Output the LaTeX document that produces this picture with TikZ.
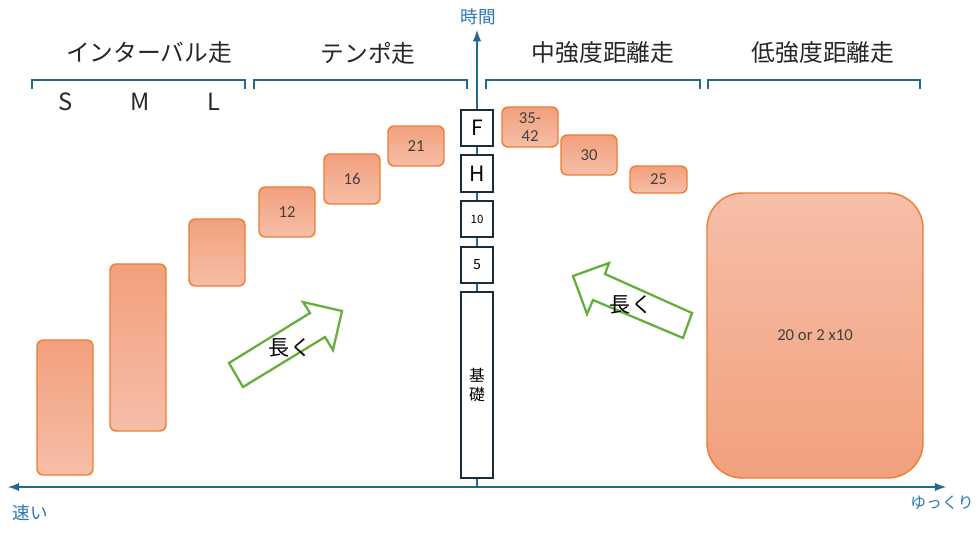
\documentclass[tikz,border=0pt]{standalone}
\usepackage{fontspec}
\setmainfont{Carlito}
\newfontfamily\jp{Noto Sans CJK JP}
\usetikzlibrary{arrows.meta,positioning,shapes}

\definecolor{axisblue}{RGB}{35,105,140}
\definecolor{labelblue}{RGB}{46,117,182}
\definecolor{runedge}{RGB}{237,125,49}
\definecolor{rundark}{RGB}{242,160,125}
\definecolor{runlight}{RGB}{246,190,168}
\definecolor{stageedge}{RGB}{25,45,60}
\definecolor{longgreen}{RGB}{100,175,60}

\begin{document}
\begin{tikzpicture}[x=0.02cm, y=-0.02cm, thick]

		\tikzstyle{heading}=[text=black!85, font=\jp\fontsize{13.5}{16}\selectfont]
		\tikzstyle{axislabel}=[text=labelblue, font=\jp\fontsize{10}{12}\selectfont]
		\tikzstyle{bracket}=[axisblue, line width=1.2pt]
		\tikzstyle{run}=[rectangle, rounded corners=3.5pt, draw=runedge, line width=0.8pt, top color=rundark, bottom color=runlight, text=black!75, font=\fontsize{9.5}{10}\selectfont, minimum width=1.12cm, inner sep=1pt]
		\tikzstyle{stage}=[rectangle, draw=stageedge, line width=1.2pt, fill=white, text=black, minimum width=0.64cm, inner sep=1pt]
		\tikzstyle{longer}=[draw=longgreen, line width=1.3pt, fill=white, line join=miter]

		\useasboundingbox (0,0) rectangle (980,535);

		% axes
		\coordinate (origin) at (477,487);
		\coordinate (fast) at (8,487);
		\coordinate (slow) at (946,487);
		\coordinate (time) at (477,30);
		\draw[-latex, axisblue, line width=1.2pt] (origin) -- (fast);
		\draw[-latex, axisblue, line width=1.2pt] (origin) -- (slow);
		\draw[-latex, axisblue, line width=1.2pt] (origin) -- (time);
		\node[axislabel] (tlabel) at (478,17) {時間};
		\node[axislabel] (flabel) at (30,513) {速い};
		\node[axislabel, font=\jp\fontsize{9}{11}\selectfont] (slabel) at (942,503) {ゆっくり};

		% headings
		\node[heading] (h1) at (149,53) {インターバル走};
		\node[heading] (h2) at (368,53) {テンポ走};
		\node[heading] (h3) at (603,53) {中強度距離走};
		\node[heading] (h4) at (823,53) {低強度距離走};
		\draw[bracket] (32,89) -- (32,80) -- (245,80) -- (245,89);
		\draw[bracket] (254,89) -- (254,80) -- (467,80) -- (467,89);
		\draw[bracket] (486,89) -- (486,80) -- (700,80) -- (700,89);
		\draw[bracket] (708,89) -- (708,80) -- (920,80) -- (920,89);
		\node[heading] (s) at (66,102) {S};
		\node[heading] (m) at (140,102) {M};
		\node[heading] (l) at (214,102) {L};

		% stages on the time axis
		\node[stage, minimum height=0.72cm, font=\jp\fontsize{12}{14}\selectfont] (f) at (477,128) {F};
		\node[stage, minimum height=0.74cm, font=\jp\fontsize{12}{14}\selectfont] (hm) at (477,173.5) {H};
		\node[stage, minimum height=0.72cm, font=\jp\fontsize{6.5}{7}\selectfont] (k10) at (477,219) {10};
		\node[stage, minimum height=0.72cm, font=\jp\fontsize{8}{9}\selectfont] (k5) at (477,265) {5};
		\node[stage, minimum height=3.72cm, align=center, font=\jp\fontsize{9}{11}\selectfont] (base) at (477,385) {基\\礎};

		% runs
		\node[run, minimum height=2.7cm] (is) at (65,407.5) {};
		\node[run, minimum height=3.34cm] (im) at (138,347.5) {};
		\node[run, minimum height=1.34cm] (il) at (217,252.5) {};
		\node[run, minimum height=1.0cm] (t12) at (287,212) {12};
		\node[run, minimum height=1.0cm] (t16) at (352,179) {16};
		\node[run, minimum height=0.8cm] (t21) at (416,146) {21};
		\node[run, minimum height=0.8cm, align=center] (d42) at (530,127) {35-\\42};
		\node[run, minimum height=0.8cm] (d30) at (589,155) {30};
		\node[run, minimum height=0.54cm, minimum width=1.14cm] (d25) at (658.5,179.5) {25};
		\node[run, minimum height=5.7cm, minimum width=4.32cm, rounded corners=20pt, top color=runlight, bottom color=rundark] (easy) at (815,335.5) {20 or 2 x10};

		% longer
		\draw[longer] (229,363) -- (310,313) -- (303,302) -- (342,311) -- (333,350) -- (325,337) -- (243,387) -- cycle;
		\node[font=\jp\fontsize{12}{14}\selectfont] (long1) at (290,348) {長く};
		\draw[longer] (573,276) -- (609,263) -- (605,274) -- (692,313) -- (683,338) -- (593,300) -- (587,314) -- cycle;
		\node[font=\jp\fontsize{12}{14}\selectfont] (long2) at (631,305) {長く};

\end{tikzpicture}
\end{document}
